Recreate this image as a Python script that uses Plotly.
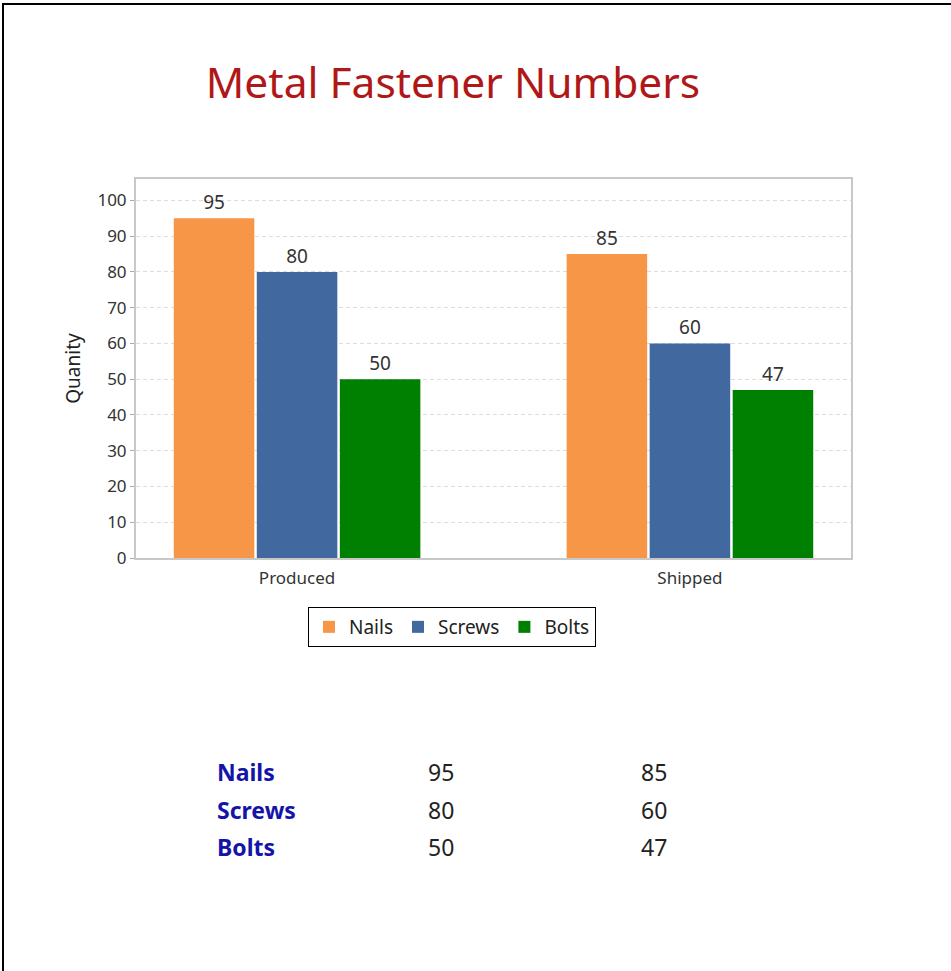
import plotly.graph_objects as go

categories = ["Produced", "Shipped"]
series_names = ["Nails", "Screws", "Bolts"]
nails = [95, 85]
screws = [80, 60]
bolts = [50, 47]
series_values = [nails, screws, bolts]
colors = ["#F79646", "#4169A0", "#008000"]
y_ticks = [0, 10, 20, 30, 40, 50, 60, 70, 80, 90, 100]

W, H = 951, 971
L, R, T, B = 136, 851, 179, 558  # plot area in pixels
FONT = "Noto Sans"


def px(x):
    return (x - L) / (R - L)


def py(y):
    return (B - y) / (B - T)


fig = go.Figure()
for name, vals, col in zip(series_names, series_values, colors):
    fig.add_trace(go.Bar(
        name=name, x=categories, y=vals, marker=dict(color=col, line=dict(width=0)),
        text=[str(v) for v in vals], textposition="outside",
        textfont=dict(size=19, color="#333333", family=FONT),
        cliponaxis=False,
    ))

annotations = []
for i, (name, vals) in enumerate(zip(series_names, series_values)):
    yy = py(772 + i * 37.5)
    annotations.append(dict(text=f"<b>{name}</b>", x=px(215), y=yy, xref="paper", yref="paper",
                            xanchor="left", yanchor="middle", showarrow=False,
                            font=dict(size=23, color="#1414A8", family=FONT)))
    for xc, v in zip([441, 654], vals):
        annotations.append(dict(text=str(v), x=px(xc), y=yy, xref="paper", yref="paper",
                                xanchor="center", yanchor="middle", showarrow=False,
                                font=dict(size=23, color="#222222", family=FONT)))

shapes = [
    dict(type="line", xref="paper", yref="paper", x0=px(3), x1=px(3), y0=py(3), y1=py(975),
         line=dict(color="black", width=2)),
    dict(type="line", xref="paper", yref="paper", x0=px(2), x1=px(960), y0=py(4), y1=py(4),
         line=dict(color="black", width=2)),
]

fig.update_layout(
    width=W, height=H,
    margin=dict(l=L, r=W - R, t=T, b=H - B, pad=0),
    paper_bgcolor="white", plot_bgcolor="white",
    font=dict(family=FONT, color="#333333"),
    title=dict(text="Metal Fastener Numbers", x=453 / W, xanchor="center",
               y=1 - 83 / H, yanchor="middle", yref="container",
               font=dict(size=42.5, color="#B01818", family=FONT)),
    barmode="group", bargap=0.366, bargroupgap=0.03,
    showlegend=True,
    legend=dict(orientation="h", x=px(452), xanchor="center", y=py(607), yanchor="top",
                bordercolor="black", borderwidth=1, bgcolor="white",
                font=dict(size=19, color="#222222", family=FONT),
                itemwidth=30, traceorder="normal"),
    annotations=annotations,
    shapes=shapes,
    xaxis=dict(type="category", range=[-0.41, 1.41], showline=True, mirror=True,
               linecolor="#c8c8c8", linewidth=2, ticks="", showgrid=False,
               ticklabelstandoff=4,
               tickfont=dict(size=17, color="#333333", family=FONT)),
    yaxis=dict(range=[0, 106], tickvals=y_ticks, showline=True, mirror=True,
               linecolor="#c8c8c8", linewidth=2, ticks="outside", ticklen=4,
               tickcolor="#aaaaaa", showgrid=True, gridcolor="#dcdcdc", griddash="4px,3px",
               zeroline=False,
               title=dict(text="Quanity", font=dict(size=19, color="#222222", family=FONT),
                          standoff=12),
               tickfont=dict(size=17, color="#333333", family=FONT)),
)

fig.write_html("out.html", config={"displayModeBar": False},
               post_script="document.body.style.margin='0px';document.body.style.overflow='hidden';")
